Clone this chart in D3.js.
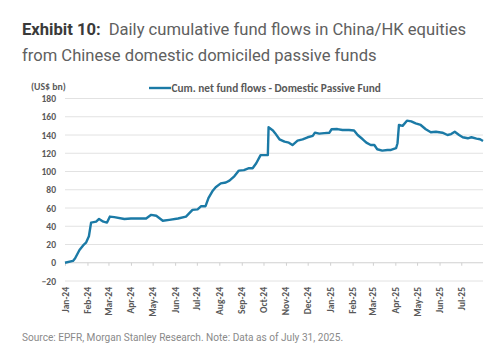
<!DOCTYPE html>
<html>
<head>
<meta charset="utf-8">
<script src="https://cdn.jsdelivr.net/npm/d3@7"></script>
<style>
  body { margin: 0; background: #fff; }
  svg { display: block; }
</style>
</head>
<body>
<div id="chart"></div>
<script>
// cumulative net flows, US$ bn
const dates = [
  '2024-01-01', '2024-01-12', '2024-01-15', '2024-01-21', '2024-01-26', '2024-01-30',
  '2024-02-03', '2024-02-06', '2024-02-13', '2024-02-17', '2024-02-23', '2024-02-28',
  '2024-03-03', '2024-03-09', '2024-03-23', '2024-04-01', '2024-04-22', '2024-04-29',
  '2024-05-06', '2024-05-15', '2024-05-24', '2024-06-05', '2024-06-16', '2024-06-25',
  '2024-07-02', '2024-07-07', '2024-07-13', '2024-07-17', '2024-07-23', '2024-07-27',
  '2024-08-03', '2024-08-10', '2024-08-15', '2024-08-22', '2024-08-28', '2024-09-04',
  '2024-09-11', '2024-09-16', '2024-09-21', '2024-09-27', '2024-10-07', '2024-10-08',
  '2024-10-14', '2024-10-17', '2024-10-23', '2024-10-30', '2024-11-05', '2024-11-10',
  '2024-11-17', '2024-11-24', '2024-12-01', '2024-12-08', '2024-12-11', '2024-12-17',
  '2024-12-24', '2024-12-31', '2025-01-03', '2025-01-11', '2025-01-18', '2025-01-27',
  '2025-02-03', '2025-02-08', '2025-02-15', '2025-02-20', '2025-02-26', '2025-03-03',
  '2025-03-07', '2025-03-14', '2025-03-21', '2025-03-26', '2025-04-02', '2025-04-04',
  '2025-04-06', '2025-04-11', '2025-04-17', '2025-04-23', '2025-04-29', '2025-05-06',
  '2025-05-13', '2025-05-20', '2025-05-27', '2025-06-05', '2025-06-12', '2025-06-17',
  '2025-06-22', '2025-06-28', '2025-07-03', '2025-07-10', '2025-07-15', '2025-07-22',
  '2025-07-27', '2025-07-31'
];
const flows = [
  0, 2, 5, 14, 19, 22,
  29, 44, 45, 48, 45, 44,
  50.6, 50, 48, 48.5, 48.5, 52.5,
  51.5, 46, 47, 48.5, 50.6, 58,
  58.5, 62, 62, 70.8, 79, 82.8,
  87, 88, 90, 95, 101, 101.5,
  103.6, 103.6, 109, 118, 118, 148.5,
  145, 142, 135.3, 132.7, 131.6, 129,
  133.8, 135.3, 137.5, 139, 142.6, 141.5,
  142, 142.5, 146.3, 146.5, 145.5, 145.5,
  145, 140, 135.3, 131.6, 129, 129,
  124.4, 122.9, 123.5, 123.6, 125.5, 131,
  151, 150, 155.7, 155, 152.8, 151,
  146.3, 143, 143.5, 142.5, 140, 141,
  143.6, 140, 137.5, 136.4, 137.5, 136,
  135.3, 133.5
];
const yTicks = [-20, 0, 20, 40, 60, 80, 100, 120, 140, 160, 180];
const titleBold = 'Exhibit 10:';
const titleLines = ['Daily cumulative fund flows in China/HK equities', 'from Chinese domestic domiciled passive funds'];
const seriesName = 'Cum. net fund flows - Domestic Passive Fund';
const unitLabel = '(US$ bn)';
const sourceNote = 'Source: EPFR, Morgan Stanley Research. Note: Data as of July 31, 2025.';

const W = 502, H = 362;
const plot = { left: 65, right: 483, top: 98.5, bottom: 281 };
const lineColor = '#1b7aa6';
const axisFont = 'Carlito, Calibri, "Open Sans", sans-serif';
const labelColor = '#595959';

const parse = d3.timeParse('%Y-%m-%d');
const data = dates.map((d, i) => ({ date: parse(d), value: flows[i] }));

const x = d3.scaleTime()
    .domain([parse('2024-01-01'), parse('2025-07-31')])
    .range([plot.left, plot.right]);

const y = d3.scaleLinear()
    .domain([-20, 180])
    .range([plot.bottom, plot.top]);

const svg = d3.select('#chart')
  .append('svg')
    .attr('width', W)
    .attr('height', H);

// title
const t1 = svg.append('text')
    .attr('x', 22)
    .attr('y', 35)
    .attr('font-family', 'Roboto, sans-serif')
    .attr('font-size', '16.6px')
    .attr('fill', '#606060');
t1.append('tspan').attr('font-weight', 'bold').attr('fill', '#3a3a3a').text(titleBold);
t1.append('tspan').attr('dx', 8).text(titleLines[0]);

svg.append('text')
    .attr('x', 22)
    .attr('y', 61)
    .attr('font-family', 'Roboto, sans-serif')
    .attr('font-size', '16.6px')
    .attr('fill', '#606060')
    .text(titleLines[1]);

// gridlines
svg.append('g')
  .selectAll('line')
  .data(yTicks)
  .enter()
  .append('line')
    .attr('x1', plot.left)
    .attr('x2', plot.right)
    .attr('y1', d => y(d))
    .attr('y2', d => y(d))
    .attr('stroke', d => d === 0 ? '#d0d0d0' : '#e2e2e2')
    .attr('stroke-width', 1);

// y axis labels
const yAxis = svg.append('g')
    .attr('transform', `translate(${plot.left}, 0)`)
    .call(d3.axisLeft(y).tickValues(yTicks).tickSize(0).tickPadding(9));
yAxis.select('.domain').remove();
yAxis.selectAll('text')
    .attr('font-family', axisFont)
    .attr('font-size', '9.5px')
    .attr('font-weight', 'bold')
    .attr('fill', labelColor);

// x axis on the zero line
const months = d3.timeMonth.range(parse('2024-01-01'), parse('2025-08-01'));
const xAxis = svg.append('g')
    .attr('transform', `translate(0, ${y(0)})`)
    .call(d3.axisBottom(x).tickValues(months).tickSize(3).tickFormat(() => ''));
xAxis.select('.domain').remove();
xAxis.selectAll('line').attr('stroke', '#d0d0d0');

// month labels, rotated, below the plot
svg.append('g')
  .selectAll('text')
  .data(months)
  .enter()
  .append('text')
    .attr('transform', d => `translate(${x(d) + 3.5}, ${plot.bottom + 6}) rotate(-90)`)
    .attr('text-anchor', 'end')
    .attr('font-family', axisFont)
    .attr('font-size', '9.5px')
    .attr('font-weight', 'bold')
    .attr('fill', labelColor)
    .text(d => d3.timeFormat('%b-%y')(d));

// series
svg.append('path')
    .datum(data)
    .attr('fill', 'none')
    .attr('stroke', lineColor)
    .attr('stroke-width', 2.4)
    .attr('stroke-linejoin', 'round')
    .attr('d', d3.line()
        .x(d => x(d.date))
        .y(d => y(d.value)));

// unit label
svg.append('text')
    .attr('x', 31)
    .attr('y', 89.5)
    .attr('font-family', axisFont)
    .attr('font-size', '9.8px')
    .attr('font-weight', 'bold')
    .attr('fill', labelColor)
    .text(unitLabel);

// legend
svg.append('line')
    .attr('x1', 149)
    .attr('x2', 171)
    .attr('y1', 88)
    .attr('y2', 88)
    .attr('stroke', lineColor)
    .attr('stroke-width', 2.4);
svg.append('text')
    .attr('x', 171.5)
    .attr('y', 91.8)
    .attr('font-family', axisFont)
    .attr('font-size', '11.3px')
    .attr('font-weight', 'bold')
    .attr('fill', labelColor)
    .text(seriesName);

// source
svg.append('text')
    .attr('x', 22)
    .attr('y', 341)
    .attr('font-family', 'Roboto, sans-serif')
    .attr('font-size', '10.1px')
    .attr('fill', '#8a8a8a')
    .text(sourceNote);
</script>
</body>
</html>
